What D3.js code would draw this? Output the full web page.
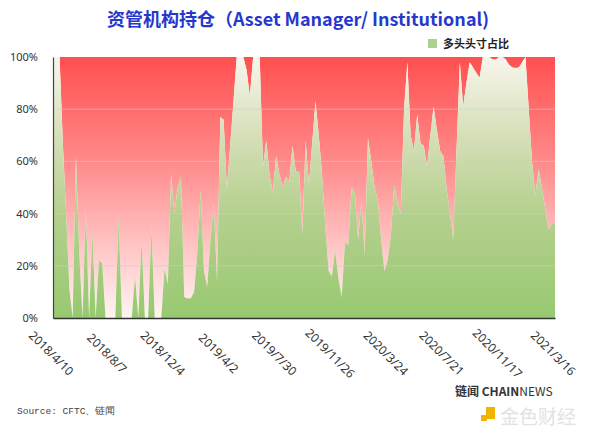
<!DOCTYPE html>
<html>
<head>
<meta charset="utf-8">
<script src="https://cdn.jsdelivr.net/npm/d3@7"></script>
<style>
  html, body { margin: 0; padding: 0; background: #fff; }
  svg { display: block; }
</style>
</head>
<body>
<svg id="chart" width="600" height="433"></svg>
<script>
// ---- data ----
const startWeek = "2018/4/10";
const tickLabels = ["2018/4/10","2018/8/7","2018/12/4","2019/4/2","2019/7/30","2019/11/26","2020/3/24","2020/7/21","2020/11/17","2021/3/16"];
const yTickValues = [0, 20, 40, 60, 80, 100];
const seriesName = "多头头寸占比";
// weekly long-position share (%) of asset managers
const longShare = [
  100,100,100,67,40,11,0,62,25,0,
  42,0,33,0,22,21,0,0,0,0,
  39,0,0,0,0,16,0,30,0,0,
  35,0,0,0,19,13,55,40,50,54,
  8,7.5,7.6,10,25,49,18,12,30,44,
  14,77,76,49,66,83,100,100,100,95,
  85,100,100,100,58,68,55,48,62,55,
  50,54,52,66,56,56,32,68,51,67,
  83,70,55,35,18,16,26,15,8,29,
  28,50,48,30,45,24,69,60,50,45,
  30,18,22,32,51,44,40,80,98,70,
  64,78,67,66,58,70,81,72,64,62,
  49,40,30,65,98,81,90,98,96,94,
  92,100,100,100,99,99,100,100,99,97,
  96,95.8,96,98,100,80,60,47,57,50,
  42,34,36,36
];

// ---- build ----
const parse = d3.timeParse("%Y/%-m/%-d");
const t0 = parse(startWeek);
const data = longShare.map((v, i) => ({ date: d3.timeWeek.offset(t0, i), v }));

const svg = d3.select("#chart");
const L = 53, R = 555, T = 57, B = 318;

const x = d3.scaleTime().domain(d3.extent(data, d => d.date)).range([L, R]);
const y = d3.scaleLinear().domain([0, 100]).range([B, T]);

const defs = svg.append("defs");
const gRed = defs.append("linearGradient").attr("id", "gRed")
  .attr("gradientUnits", "userSpaceOnUse").attr("x1", 0).attr("x2", 0).attr("y1", B).attr("y2", T);
[[0, "#fff4f4"], [0.25, "#ffc9c9"], [0.6, "#ff8a8a"], [1, "#ff5050"]].forEach(([o, c]) =>
  gRed.append("stop").attr("offset", o).attr("stop-color", c));
const gGreen = defs.append("linearGradient").attr("id", "gGreen")
  .attr("gradientUnits", "userSpaceOnUse").attr("x1", 0).attr("x2", 0).attr("y1", B).attr("y2", T);
[[0, "#97c971"], [0.4, "#b5d08e"], [0.7, "#d5dfb8"], [1, "#f8f6ec"]].forEach(([o, c]) =>
  gGreen.append("stop").attr("offset", o).attr("stop-color", c));

// short share area (rest up to 100%)
svg.append("path").datum(data)
  .attr("fill", "url(#gRed)")
  .attr("d", d3.area().x(d => x(d.date)).y0(d => y(d.v)).y1(() => y(100)));

// long share area
svg.append("path").datum(data)
  .attr("fill", "url(#gGreen)")
  .attr("d", d3.area().x(d => x(d.date)).y0(y(0)).y1(d => y(d.v)));

// gridlines
svg.append("g").selectAll("line").data(yTickValues.filter(v => v > 0 && v < 100)).join("line")
  .attr("x1", L).attr("x2", R).attr("y1", d => y(d)).attr("y2", d => y(d))
  .attr("stroke", "rgba(205,205,205,0.6)").attr("stroke-width", 1);

// y axis
const yAxis = d3.axisLeft(y).tickValues(yTickValues).tickFormat(d => d + "%").tickSize(0).tickPadding(15);
const gy = svg.append("g").attr("transform", `translate(${L},0)`).call(yAxis);
gy.select(".domain").attr("stroke", "#444").attr("stroke-width", 1.2);
gy.selectAll("text").attr("font-family", "'Noto Sans', sans-serif").attr("font-size", 11).attr("fill", "#333");

// x axis
const tickDates = tickLabels.map(parse);
const xAxis = d3.axisBottom(x).tickValues(tickDates).tickFormat((d, i) => tickLabels[i]).tickSize(0);
const gx = svg.append("g").attr("transform", `translate(0,${B})`).call(xAxis);
gx.select(".domain").attr("stroke", "#333").attr("stroke-width", 1.5);
gx.selectAll("text")
  .attr("font-family", "'Noto Sans', sans-serif").attr("font-size", 12).attr("fill", "#333")
  .attr("text-anchor", "middle").attr("dy", null)
  .attr("y", 0).attr("dominant-baseline", "middle")
  .attr("transform", "translate(-3,36) rotate(45)");

// title
svg.append("text").attr("x", 298).attr("y", 26).attr("text-anchor", "middle")
  .attr("font-family", "'Noto Sans CJK SC', sans-serif").attr("font-weight", "bold")
  .attr("font-size", 18).attr("fill", "#2638cc")
  .text("资管机构持仓（Asset Manager/ Institutional)");

// legend
const lg = svg.append("g").attr("transform", "translate(428,39)");
lg.append("rect").attr("width", 9).attr("height", 9).attr("fill", "#a9d28e");
lg.append("text").attr("x", 15).attr("y", 8.5)
  .attr("font-family", "'Noto Sans CJK SC', sans-serif").attr("font-weight", "bold")
  .attr("font-size", 11).attr("fill", "#222").text(seriesName);

// source
svg.append("text").attr("x", 17).attr("y", 414)
  .attr("font-family", "'Liberation Mono', monospace").attr("font-size", 9.5).attr("fill", "#444")
  .text("Source: CFTC、链闻");

// brand marks
const brand = svg.append("text").attr("x", 455).attr("y", 396)
  .attr("font-family", "'Noto Sans CJK SC', sans-serif").attr("font-size", 12).attr("fill", "#333");
brand.append("tspan").attr("font-weight", "bold").text("链闻 CHAIN");
brand.append("tspan").attr("font-weight", "normal").text("NEWS");
svg.append("rect").attr("x", 486).attr("y", 407).attr("width", 9).attr("height", 12).attr("fill", "#f0b400");
svg.append("rect").attr("x", 481).attr("y", 415).attr("width", 6).attr("height", 6).attr("fill", "#f0b400");
svg.append("text").attr("x", 500).attr("y", 424)
  .attr("font-family", "'Noto Sans CJK SC', sans-serif").attr("font-size", 19).attr("fill", "#e2e2e2")
  .text("金色财经");
</script>
</body>
</html>
